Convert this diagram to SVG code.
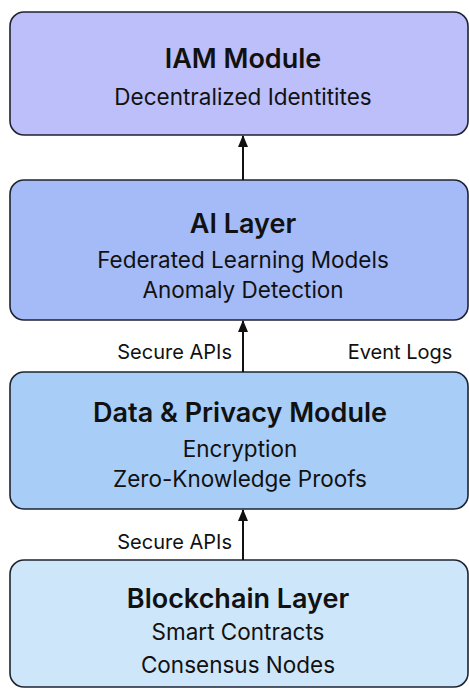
<svg xmlns="http://www.w3.org/2000/svg" width="469" height="688" viewBox="0 0 469 688">
<defs>
<marker id="ah" viewBox="0 0 12 10" refX="11" refY="5" markerWidth="12" markerHeight="10" markerUnits="userSpaceOnUse" orient="auto">
<path d="M0,0 L12,5 L0,10 Z" fill="#111"/>
</marker>
<style>
.box{stroke:#1f2330;stroke-width:1.6}
.t{font-family:Inter,"Noto Sans","Liberation Sans",sans-serif;fill:#111;text-anchor:middle}
.h{font-size:27px;font-weight:600}
.s{font-size:22.5px}
.l{font-size:20px}
.e{text-anchor:end}
.c{stroke:#111;stroke-width:2;fill:none}
</style>
</defs>
<rect width="469" height="688" fill="#ffffff"/>
<g id="iam">
<rect class="box" x="10" y="12" width="458" height="123" rx="14" fill="#bcbff9"/>
<text class="t h" x="243" y="68">IAM Module</text>
<text class="t s" x="243" y="105">Decentralized Identitites</text>
</g>
<g id="ai">
<rect class="box" x="10" y="180" width="458" height="140" rx="14" fill="#a5bbf7"/>
<text class="t h" x="243" y="233">AI Layer</text>
<text class="t s" x="243" y="268">Federated Learning Models</text>
<text class="t s" x="243" y="298">Anomaly Detection</text>
</g>
<g id="data">
<rect class="box" x="10" y="372" width="458" height="137" rx="14" fill="#a8cdf6"/>
<text class="t h" x="240" y="422">Data &amp; Privacy Module</text>
<text class="t s" x="240" y="457">Encryption</text>
<text class="t s" x="240" y="487">Zero-Knowledge Proofs</text>
</g>
<g id="blockchain">
<rect class="box" x="10" y="560" width="458" height="127" rx="14" fill="#cde6fa"/>
<text class="t h" x="238" y="608">Blockchain Layer</text>
<text class="t s" x="238" y="640">Smart Contracts</text>
<text class="t s" x="238" y="673">Consensus Nodes</text>
</g>
<g id="connectors">
<line class="c" x1="243" y1="180" x2="243" y2="136" marker-end="url(#ah)"/>
<line class="c" x1="243" y1="372" x2="243" y2="321" marker-end="url(#ah)"/>
<line class="c" x1="243" y1="560" x2="243" y2="510" marker-end="url(#ah)"/>
<text class="t l e" x="232" y="359">Secure APIs</text>
<text class="t l" x="400" y="359">Event Logs</text>
<text class="t l e" x="232" y="549">Secure APIs</text>
</g>
</svg>
